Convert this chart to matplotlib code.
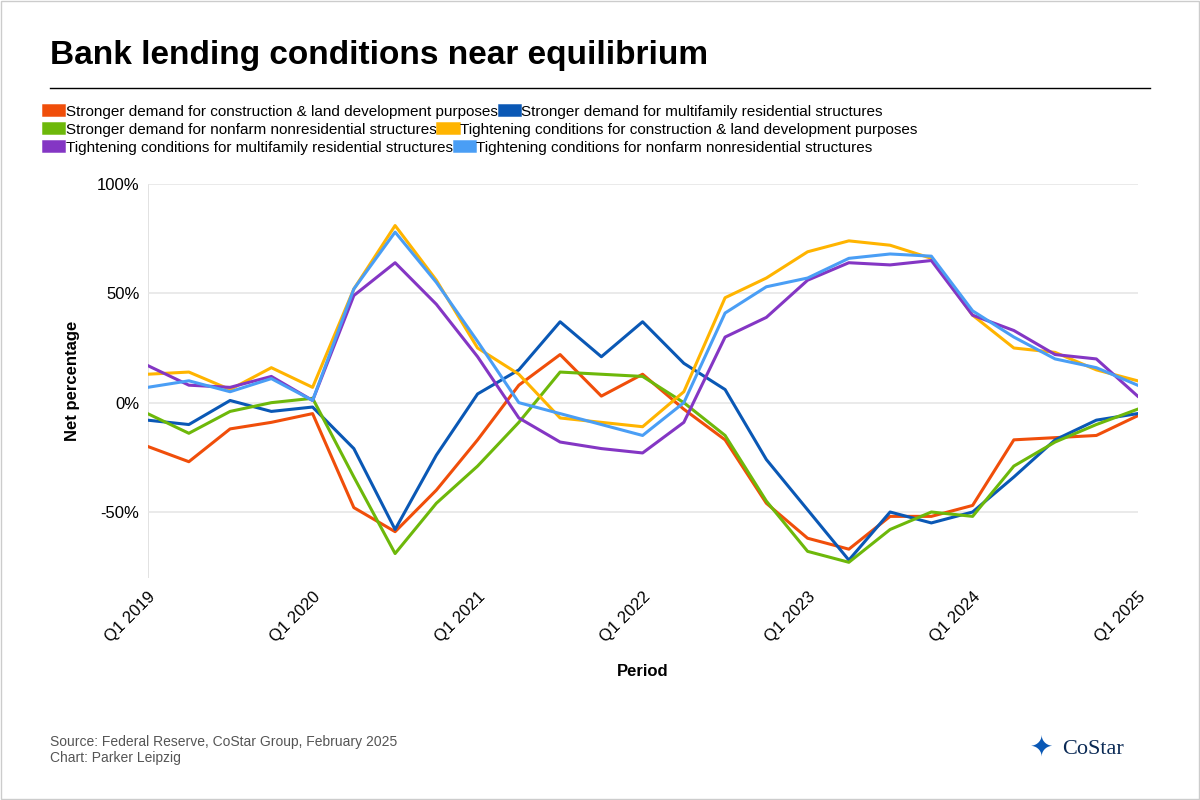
import numpy as np
import matplotlib.pyplot as plt
from matplotlib.ticker import FuncFormatter

quarters = ["Q%d %d" % (q, y) for y in range(2019, 2026) for q in range(1, 5)][:25]

constr_demand = [-20, -27, -12, -9, -5, -48, -59, -40, -17, 8, 22, 3, 13, -3, -17, -46, -62, -67, -52, -52, -47, -17, -16, -15, -6]
multi_demand = [-8, -10, 1, -4, -2, -21, -58, -24, 4, 15, 37, 21, 37, 18, 6, -26, -49, -72, -50, -55, -50, -34, -17, -8, -5]
nonfarm_demand = [-5, -14, -4, 0, 2, -34, -69, -46, -29, -9, 14, 13, 12, 0, -15, -45, -68, -73, -58, -50, -52, -29, -18, -10, -3]
constr_tight = [13, 14, 6, 16, 7, 52, 81, 56, 25, 13, -7, -9, -11, 5, 48, 57, 69, 74, 72, 66, 40, 25, 23, 15, 10]
multi_tight = [17, 8, 7, 12, 1, 49, 64, 45, 21, -7, -18, -21, -23, -9, 30, 39, 56, 64, 63, 65, 40, 33, 22, 20, 3]
nonfarm_tight = [7, 10, 5, 11, 1, 52, 78, 55, 28, 0, -5, -10, -15, 0, 41, 53, 57, 66, 68, 67, 42, 30, 20, 16, 8]

series = [
    ("Stronger demand for construction & land development purposes", constr_demand, "#f04e0a"),
    ("Stronger demand for multifamily residential structures", multi_demand, "#0a58b5"),
    ("Stronger demand for nonfarm nonresidential structures", nonfarm_demand, "#6db80a"),
    ("Tightening conditions for construction & land development purposes", constr_tight, "#ffb400"),
    ("Tightening conditions for multifamily residential structures", multi_tight, "#8436c4"),
    ("Tightening conditions for nonfarm nonresidential structures", nonfarm_tight, "#4a9ef5"),
]

plt.rcParams['font.family'] = ['Liberation Sans', 'DejaVu Sans']
fig = plt.figure(figsize=(12, 8), dpi=100)
ax = fig.add_axes([0.123, 0.278, 0.825, 0.492])

x = np.arange(len(quarters))
lines = []
for name, vals, col in series:
    lines += ax.plot(x, vals, color=col, lw=2.2, label=name)

ax.set_xlim(0, 24)
ax.set_ylim(-80, 100)
ax.set_yticks([-50, 0, 50, 100])
ax.yaxis.set_major_formatter(FuncFormatter(lambda v, p: "%d%%" % v))
ax.set_xticks(x[::4])
ax.set_xticklabels(quarters[::4], rotation=45, ha="right", rotation_mode="anchor")
ax.tick_params(labelsize=12, length=0, pad=6)
ax.tick_params(axis="x", pad=8)
ax.grid(axis="y", color="#e6e6e6", lw=1.2)
ax.axvline(0, color="#dddddd", lw=1.2, zorder=0)
for s in ax.spines.values():
    s.set_visible(False)
ax.set_xlabel("Period", fontsize=12, fontweight="bold", labelpad=14)
ax.set_ylabel("Net percentage", fontsize=12, fontweight="bold", labelpad=12)

fig.text(0.042, 0.92, "Bank lending conditions near equilibrium", fontsize=24, fontweight="bold")
fig.add_artist(plt.Line2D([0.042, 0.958], [0.89, 0.89], color="black", lw=1))

# legend: three rows, two items each, flowing left to right
for r in range(3):
    hs = lines[2 * r:2 * r + 2]
    leg = fig.legend(hs, [h.get_label() for h in hs], loc="upper left",
                     bbox_to_anchor=(0.04, 0.869 - r * 0.0225), ncol=2, frameon=False,
                     fontsize=11, handlelength=0.75, handleheight=0.8, handletextpad=0.4,
                     columnspacing=0.4, borderaxespad=0, borderpad=0)
    for h in leg.legend_handles:
        h.set_linewidth(9)

fig.text(0.042, 0.068, "Source: Federal Reserve, CoStar Group, February 2025", fontsize=10, color="#555555")
fig.text(0.042, 0.047, "Chart: Parker Leipzig", fontsize=10, color="#555555")
fig.text(0.885, 0.058, "CoStar", fontsize=16, family="Liberation Serif", color="#0b2a55")
fig.text(0.858, 0.056, "\u2726", fontsize=20, color="#0a58b5")

fig.add_artist(plt.Rectangle((0.001, 0.001), 0.998, 0.998, fill=False, ec="#cccccc", lw=1))
fig.savefig("out.png")
